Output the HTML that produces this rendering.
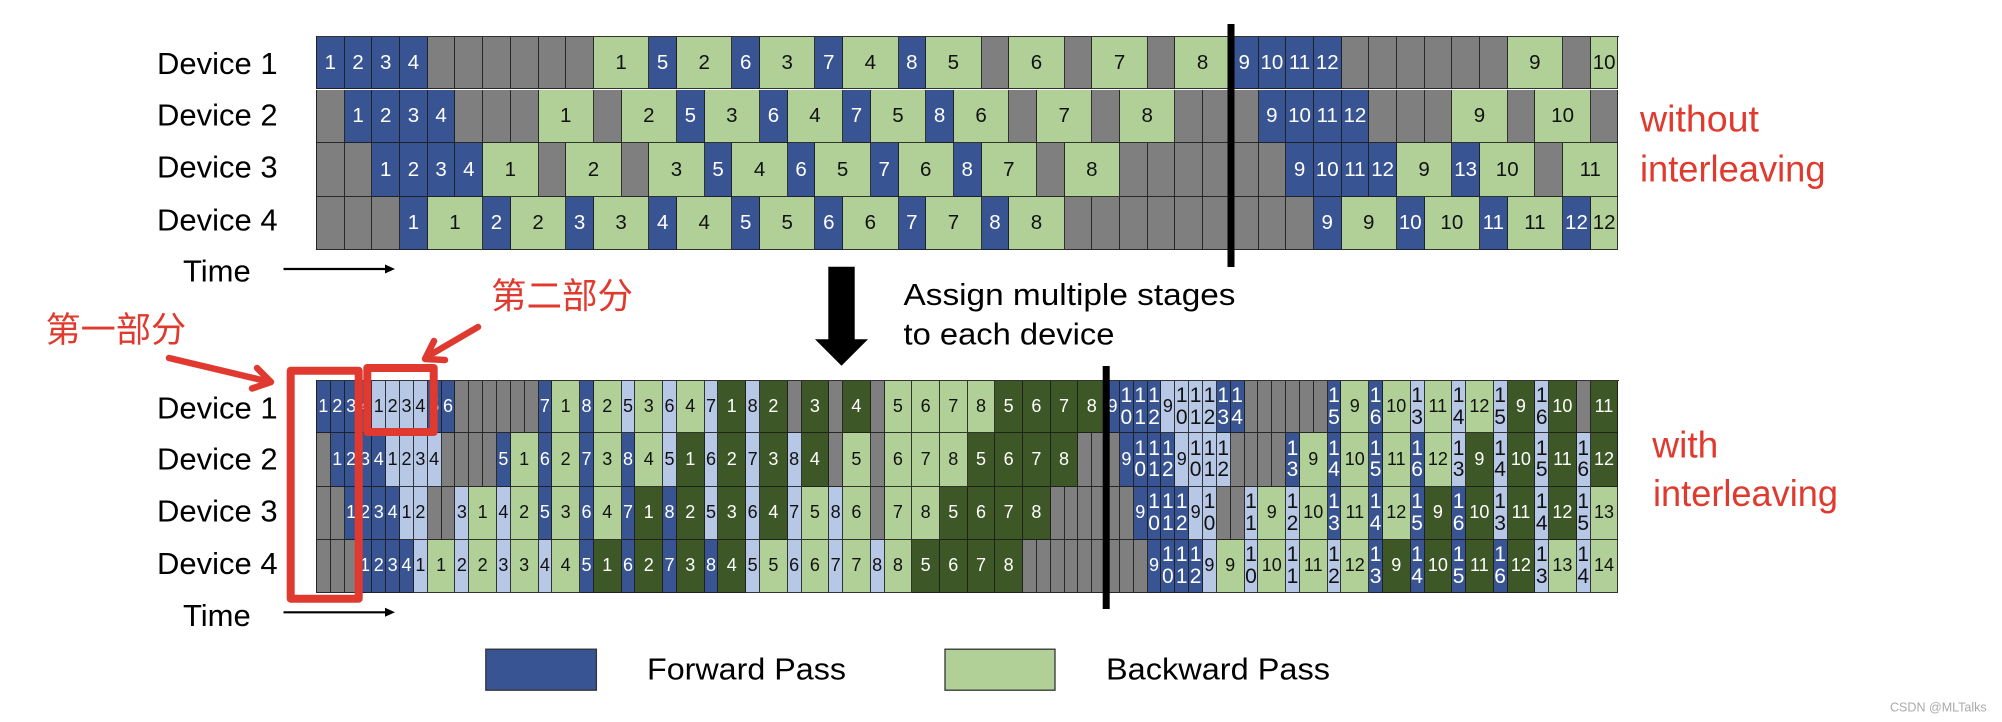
<!DOCTYPE html>
<html><head><meta charset="utf-8">
<style>
html,body{margin:0;padding:0;background:#fff}
body{width:2002px;height:722px;position:relative;overflow:hidden;font-family:"Liberation Sans","Noto Sans CJK SC",sans-serif}
.r{position:absolute;left:316px;width:1303px;display:flex;box-sizing:border-box;border-left:1px solid #222}
.t{height:53.4px;font-size:20.5px;--u:27.702px}
.m{height:53.3px;font-size:18px;--u:13.851px}
.top{border-top:1px solid #333}
.r b{font-weight:400;flex:none;box-sizing:border-box;width:var(--u);height:100%;border-right:1px solid rgba(25,25,25,.85);border-bottom:1px solid rgba(25,25,25,.85);display:flex;align-items:center;justify-content:center;text-align:center;white-space:nowrap;line-height:21.7px}
.r b.w{width:calc(var(--u)*2)}
.r b.n{font-size:21px}
.f{background:#385492;color:#fff}
.g{background:#b0d097;color:#111}
.x{background:#7f7f7f}
.l{background:#b7c7e6;color:#111}
.d{background:#3e5727;color:#fff}
svg{position:absolute;left:0;top:0}
</style></head><body>

<div class="r t top" style="top:36px"><b class="f">1</b><b class="f">2</b><b class="f">3</b><b class="f">4</b><b class="x"></b><b class="x"></b><b class="x"></b><b class="x"></b><b class="x"></b><b class="x"></b><b class="g w">1</b><b class="f">5</b><b class="g w">2</b><b class="f">6</b><b class="g w">3</b><b class="f">7</b><b class="g w">4</b><b class="f">8</b><b class="g w">5</b><b class="x"></b><b class="g w">6</b><b class="x"></b><b class="g w">7</b><b class="x"></b><b class="g w">8</b><b class="f">9</b><b class="f">10</b><b class="f">11</b><b class="f">12</b><b class="x"></b><b class="x"></b><b class="x"></b><b class="x"></b><b class="x"></b><b class="x"></b><b class="g w">9</b><b class="x"></b><b class="g">10</b></div>
<div class="r t" style="top:90px"><b class="x"></b><b class="f">1</b><b class="f">2</b><b class="f">3</b><b class="f">4</b><b class="x"></b><b class="x"></b><b class="x"></b><b class="g w">1</b><b class="x"></b><b class="g w">2</b><b class="f">5</b><b class="g w">3</b><b class="f">6</b><b class="g w">4</b><b class="f">7</b><b class="g w">5</b><b class="f">8</b><b class="g w">6</b><b class="x"></b><b class="g w">7</b><b class="x"></b><b class="g w">8</b><b class="x"></b><b class="x"></b><b class="x"></b><b class="f">9</b><b class="f">10</b><b class="f">11</b><b class="f">12</b><b class="x"></b><b class="x"></b><b class="x"></b><b class="g w">9</b><b class="x"></b><b class="g w">10</b><b class="x"></b></div>
<div class="r t" style="top:143.4px"><b class="x"></b><b class="x"></b><b class="f">1</b><b class="f">2</b><b class="f">3</b><b class="f">4</b><b class="g w">1</b><b class="x"></b><b class="g w">2</b><b class="x"></b><b class="g w">3</b><b class="f">5</b><b class="g w">4</b><b class="f">6</b><b class="g w">5</b><b class="f">7</b><b class="g w">6</b><b class="f">8</b><b class="g w">7</b><b class="x"></b><b class="g w">8</b><b class="x"></b><b class="x"></b><b class="x"></b><b class="x"></b><b class="x"></b><b class="x"></b><b class="f">9</b><b class="f">10</b><b class="f">11</b><b class="f">12</b><b class="g w">9</b><b class="f">13</b><b class="g w">10</b><b class="x"></b><b class="g w">11</b></div>
<div class="r t" style="top:196.8px"><b class="x"></b><b class="x"></b><b class="x"></b><b class="f">1</b><b class="g w">1</b><b class="f">2</b><b class="g w">2</b><b class="f">3</b><b class="g w">3</b><b class="f">4</b><b class="g w">4</b><b class="f">5</b><b class="g w">5</b><b class="f">6</b><b class="g w">6</b><b class="f">7</b><b class="g w">7</b><b class="f">8</b><b class="g w">8</b><b class="x"></b><b class="x"></b><b class="x"></b><b class="x"></b><b class="x"></b><b class="x"></b><b class="x"></b><b class="x"></b><b class="x"></b><b class="f">9</b><b class="g w">9</b><b class="f">10</b><b class="g w">10</b><b class="f">11</b><b class="g w">11</b><b class="f">12</b><b class="g">12</b></div>

<div class="r m top" style="top:380px"><b class="f">1</b><b class="f">2</b><b class="f">3</b><b class="f">4</b><b class="l">1</b><b class="l">2</b><b class="l">3</b><b class="l">4</b><b class="f">5</b><b class="f">6</b><b class="x"></b><b class="x"></b><b class="x"></b><b class="x"></b><b class="x"></b><b class="x"></b><b class="f">7</b><b class="g w">1</b><b class="f">8</b><b class="g w">2</b><b class="l">5</b><b class="g w">3</b><b class="l">6</b><b class="g w">4</b><b class="l">7</b><b class="d w">1</b><b class="l">8</b><b class="d w">2</b><b class="x"></b><b class="d w">3</b><b class="x"></b><b class="d w">4</b><b class="x"></b><b class="g w">5</b><b class="g w">6</b><b class="g w">7</b><b class="g w">8</b><b class="d w">5</b><b class="d w">6</b><b class="d w">7</b><b class="d w">8</b><b class="f">9</b><b class="f n">1<br>0</b><b class="f n">1<br>1</b><b class="f n">1<br>2</b><b class="l">9</b><b class="l n">1<br>0</b><b class="l n">1<br>1</b><b class="l n">1<br>2</b><b class="f n">1<br>3</b><b class="f n">1<br>4</b><b class="x"></b><b class="x"></b><b class="x"></b><b class="x"></b><b class="x"></b><b class="x"></b><b class="f n">1<br>5</b><b class="g w">9</b><b class="f n">1<br>6</b><b class="g w">10</b><b class="l n">1<br>3</b><b class="g w">11</b><b class="l n">1<br>4</b><b class="g w">12</b><b class="l n">1<br>5</b><b class="d w">9</b><b class="l n">1<br>6</b><b class="d w">10</b><b class="x"></b><b class="d w">11</b></div>
<div class="r m" style="top:433.3px"><b class="x"></b><b class="f">1</b><b class="f">2</b><b class="f">3</b><b class="f">4</b><b class="l">1</b><b class="l">2</b><b class="l">3</b><b class="l">4</b><b class="x"></b><b class="x"></b><b class="x"></b><b class="x"></b><b class="f">5</b><b class="g w">1</b><b class="f">6</b><b class="g w">2</b><b class="f">7</b><b class="g w">3</b><b class="f">8</b><b class="g w">4</b><b class="l">5</b><b class="d w">1</b><b class="l">6</b><b class="d w">2</b><b class="l">7</b><b class="d w">3</b><b class="l">8</b><b class="d w">4</b><b class="x"></b><b class="g w">5</b><b class="x"></b><b class="g w">6</b><b class="g w">7</b><b class="g w">8</b><b class="d w">5</b><b class="d w">6</b><b class="d w">7</b><b class="d w">8</b><b class="x"></b><b class="x"></b><b class="x"></b><b class="f">9</b><b class="f n">1<br>0</b><b class="f n">1<br>1</b><b class="f n">1<br>2</b><b class="l">9</b><b class="l n">1<br>0</b><b class="l n">1<br>1</b><b class="l n">1<br>2</b><b class="x"></b><b class="x"></b><b class="x"></b><b class="x"></b><b class="f n">1<br>3</b><b class="g w">9</b><b class="f n">1<br>4</b><b class="g w">10</b><b class="f n">1<br>5</b><b class="g w">11</b><b class="f n">1<br>6</b><b class="g w">12</b><b class="l n">1<br>3</b><b class="d w">9</b><b class="l n">1<br>4</b><b class="d w">10</b><b class="l n">1<br>5</b><b class="d w">11</b><b class="l n">1<br>6</b><b class="d w">12</b></div>
<div class="r m" style="top:486.6px"><b class="x"></b><b class="x"></b><b class="f">1</b><b class="f">2</b><b class="f">3</b><b class="f">4</b><b class="l">1</b><b class="l">2</b><b class="x"></b><b class="x"></b><b class="l">3</b><b class="g w">1</b><b class="l">4</b><b class="g w">2</b><b class="f">5</b><b class="g w">3</b><b class="f">6</b><b class="g w">4</b><b class="f">7</b><b class="d w">1</b><b class="f">8</b><b class="d w">2</b><b class="l">5</b><b class="d w">3</b><b class="l">6</b><b class="d w">4</b><b class="l">7</b><b class="g w">5</b><b class="l">8</b><b class="g w">6</b><b class="x"></b><b class="g w">7</b><b class="g w">8</b><b class="d w">5</b><b class="d w">6</b><b class="d w">7</b><b class="d w">8</b><b class="x"></b><b class="x"></b><b class="x"></b><b class="x"></b><b class="x"></b><b class="x"></b><b class="f">9</b><b class="f n">1<br>0</b><b class="f n">1<br>1</b><b class="f n">1<br>2</b><b class="l">9</b><b class="l n">1<br>0</b><b class="x"></b><b class="x"></b><b class="l n">1<br>1</b><b class="g w">9</b><b class="l n">1<br>2</b><b class="g w">10</b><b class="f n">1<br>3</b><b class="g w">11</b><b class="f n">1<br>4</b><b class="g w">12</b><b class="f n">1<br>5</b><b class="d w">9</b><b class="f n">1<br>6</b><b class="d w">10</b><b class="l n">1<br>3</b><b class="d w">11</b><b class="l n">1<br>4</b><b class="d w">12</b><b class="l n">1<br>5</b><b class="g w">13</b></div>
<div class="r m" style="top:539.9px"><b class="x"></b><b class="x"></b><b class="x"></b><b class="f">1</b><b class="f">2</b><b class="f">3</b><b class="f">4</b><b class="l">1</b><b class="g w">1</b><b class="l">2</b><b class="g w">2</b><b class="l">3</b><b class="g w">3</b><b class="l">4</b><b class="g w">4</b><b class="f">5</b><b class="d w">1</b><b class="f">6</b><b class="d w">2</b><b class="f">7</b><b class="d w">3</b><b class="f">8</b><b class="d w">4</b><b class="l">5</b><b class="g w">5</b><b class="l">6</b><b class="g w">6</b><b class="l">7</b><b class="g w">7</b><b class="l">8</b><b class="g w">8</b><b class="d w">5</b><b class="d w">6</b><b class="d w">7</b><b class="d w">8</b><b class="x"></b><b class="x"></b><b class="x"></b><b class="x"></b><b class="x"></b><b class="x"></b><b class="x"></b><b class="x"></b><b class="x"></b><b class="f">9</b><b class="f n">1<br>0</b><b class="f n">1<br>1</b><b class="f n">1<br>2</b><b class="l">9</b><b class="g w">9</b><b class="l n">1<br>0</b><b class="g w">10</b><b class="l n">1<br>1</b><b class="g w">11</b><b class="l n">1<br>2</b><b class="g w">12</b><b class="f n">1<br>3</b><b class="d w">9</b><b class="f n">1<br>4</b><b class="d w">10</b><b class="f n">1<br>5</b><b class="d w">11</b><b class="f n">1<br>6</b><b class="d w">12</b><b class="l n">1<br>3</b><b class="g w">13</b><b class="l n">1<br>4</b><b class="g w">14</b></div>

<svg width="2002" height="722" viewBox="0 0 2002 722" xmlns="http://www.w3.org/2000/svg" font-family="'Liberation Sans','Noto Sans CJK SC',sans-serif">
  <g font-size="31" fill="#000">
    <text x="157" y="74">Device 1</text>
    <text x="157" y="125.7">Device 2</text>
    <text x="157" y="177.7">Device 3</text>
    <text x="157" y="230.5">Device 4</text>
    <text x="183" y="281.7">Time</text>
    <text x="157" y="418.3">Device 1</text>
    <text x="157" y="469.5">Device 2</text>
    <text x="157" y="521.7">Device 3</text>
    <text x="157" y="574">Device 4</text>
    <text x="183" y="626">Time</text>
    <text x="903.5" y="305" textLength="332" lengthAdjust="spacingAndGlyphs">Assign multiple stages</text>
    <text x="903.5" y="344.3" textLength="211" lengthAdjust="spacingAndGlyphs">to each device</text>
    <text x="647" y="679.3" textLength="199" lengthAdjust="spacingAndGlyphs">Forward Pass</text>
    <text x="1106" y="679.3" textLength="224" lengthAdjust="spacingAndGlyphs">Backward Pass</text>
  </g>

  <rect x="1227.5" y="24" width="7" height="243" fill="#000"/>
  <rect x="1102.7" y="366" width="7" height="243" fill="#000"/>

  <path d="M283.5 269H386" stroke="#000" stroke-width="2.2"/>
  <path d="M385 264.5L395 269L385 273.5Z" fill="#000"/>
  <path d="M283.5 612.3H386" stroke="#000" stroke-width="2.2"/>
  <path d="M385 607.8L395 612.3L385 616.8Z" fill="#000"/>

  <path d="M828.3 266.7H854.7V339.3H868L841.5 365.7L815 339.3H828.3Z" fill="#000"/>

  <rect x="485.8" y="649.2" width="110.6" height="41" fill="#385492" stroke="#333" stroke-width="1.3"/>
  <rect x="945" y="649.2" width="110" height="41" fill="#b0d097" stroke="#333" stroke-width="1.3"/>

  <g fill="none" stroke="#e03a30" stroke-width="8" stroke-linejoin="round">
    <rect x="290.7" y="370.7" width="68" height="228"/>
    <rect x="367.3" y="368" width="66.4" height="64"/>
  </g>

  <g fill="none" stroke="#e03a30" stroke-linecap="round" stroke-linejoin="round">
    <path d="M169 358L268 381.5" stroke-width="6.5"/>
    <path d="M257 368L271 382L252 388.5" stroke-width="6.5"/>
    <path d="M478 327L430 355" stroke-width="6.5"/>
    <path d="M434 341L425 359L445 360" stroke-width="6.5"/>
  </g>

  <g fill="#e0392e">
    <text x="45.5" y="342" font-size="35.2" font-family="'Noto Sans CJK SC',sans-serif">第一部分</text>
    <text x="491" y="308" font-size="35.5" font-family="'Noto Sans CJK SC',sans-serif">第二部分</text>
    <g font-size="37.5">
      <text x="1640" y="131.7" textLength="119" lengthAdjust="spacingAndGlyphs">without</text>
      <text x="1640" y="181.7" textLength="185.5" lengthAdjust="spacingAndGlyphs">interleaving</text>
      <text x="1652.3" y="457.3" textLength="66" lengthAdjust="spacingAndGlyphs">with</text>
      <text x="1653" y="506" textLength="185" lengthAdjust="spacingAndGlyphs">interleaving</text>
    </g>
  </g>

  <text x="1890" y="711.7" font-size="13" fill="#aaa" textLength="96.7" lengthAdjust="spacingAndGlyphs">CSDN @MLTalks</text>
</svg>
</body></html>
